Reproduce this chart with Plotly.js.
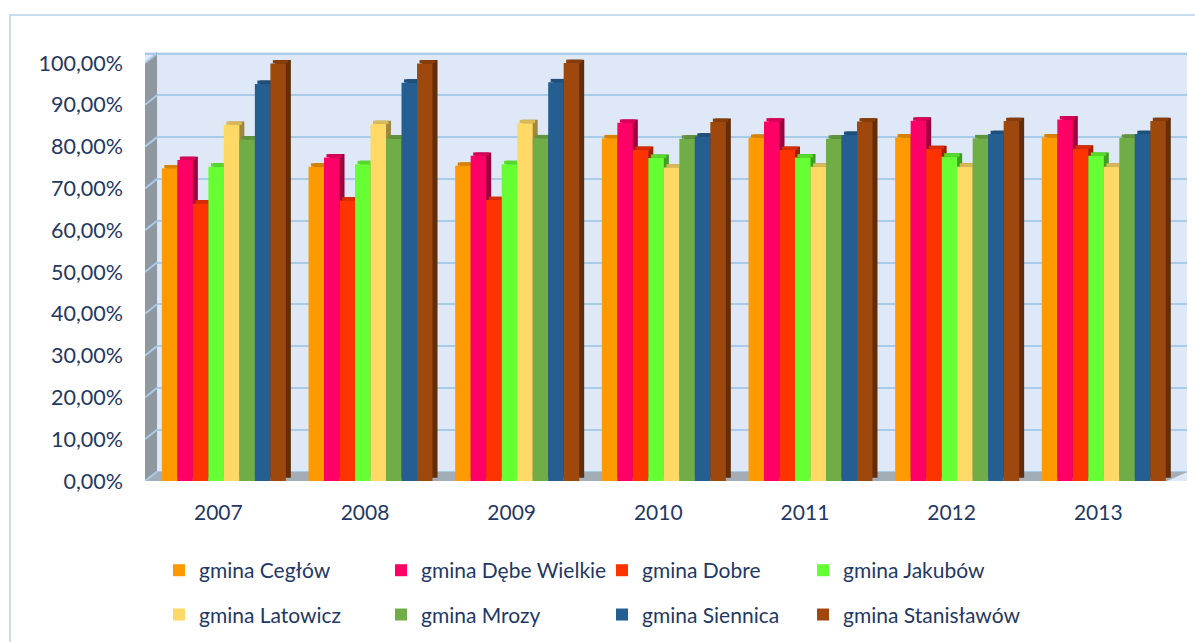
<!DOCTYPE html>
<html><head><meta charset="utf-8">
<script src="https://cdn.plot.ly/plotly-3.0.1.min.js"></script>
<style>
html,body{margin:0;padding:0;overflow:hidden;background:#fff;width:1195px;height:642px;}
#frame{position:absolute;left:9px;top:14px;width:1400px;height:900px;border-left:2px solid #C9DDF1;border-top:2px solid #C9DDF1;}
#chart{position:absolute;left:0;top:0;width:1195px;height:642px;}
</style></head><body>
<div id="frame"></div>
<div id="chart"></div>
<script>
// ---- data ----
const years = ['2007','2008','2009','2010','2011','2012','2013'];
const seriesNames = ['gmina Cegłów','gmina Dębe Wielkie','gmina Dobre','gmina Jakubów','gmina Latowicz','gmina Mrozy','gmina Siennica','gmina Stanisławów'];
const ceglow      = [74.8, 75.2, 75.4, 82.0, 82.1, 82.2, 82.2];
const debeWielkie = [76.8, 77.4, 77.8, 85.7, 86.0, 86.2, 86.5];
const dobre       = [66.4, 67.1, 67.2, 79.2, 79.2, 79.4, 79.5];
const jakubow     = [75.2, 75.8, 75.8, 77.3, 77.4, 77.6, 77.8];
const latowicz    = [85.2, 85.4, 85.6, 75.0, 75.2, 75.2, 75.2];
const mrozy       = [81.7, 81.9, 82.0, 81.9, 81.9, 82.0, 82.1];
const siennica    = [95.0, 95.3, 95.4, 82.4, 82.8, 83.0, 83.0];
const stanislawow = [99.9, 99.9, 100.0, 85.9, 86.0, 86.1, 86.1];
const yTicks = [0,10,20,30,40,50,60,70,80,90,100];
const yTickText = yTicks.map(t => t.toFixed(2).replace('.', ',') + '%');

// ---- style ----
const seriesValues = [ceglow, debeWielkie, dobre, jakubow, latowicz, mrozy, siennica, stanislawow];
const colors = ['#FF9900','#FF0066','#FF3300','#66FF33','#FFD966','#70AD47','#255E91','#9E480E'];
const legendIds = ['legend','legend2','legend3','legend4','legend','legend2','legend3','legend4'];
const textColor = '#1F3864';
const fontFam = 'Lato, "Open Sans", sans-serif';

function shade(hex, f){
  const n = parseInt(hex.slice(1),16);
  const r = Math.round(((n>>16)&255)*f), g = Math.round(((n>>8)&255)*f), b = Math.round((n&255)*f);
  return 'rgb('+r+','+g+','+b+')';
}

const W = 0.1057;      // bar width (category units)
const START = -0.385;  // offset of first bar
const DX = 0.034;      // depth shift in x (category units)
const DY = 0.8;        // depth shift in y (value units)
const WALL = 0.082;    // left wall depth (category units)
const YSHIFT = 2.27;   // back-wall shift in value units

const sides = [], tops = [], fronts = [];
seriesValues.forEach((vals, i) => {
  const off = START + i*W;
  sides.push({type:'bar', x:years, y:vals, base:DY, offset:off+DX, width:W,
    marker:{color:shade(colors[i],0.62), line:{width:0}}, showlegend:false, hoverinfo:'skip', cliponaxis:false});
  tops.push({type:'bar', x:years, y:vals.map(()=>DY), base:vals, offset:off+DX/2, width:W,
    marker:{color:shade(colors[i],0.85), line:{width:0}}, showlegend:false, hoverinfo:'skip', cliponaxis:false});
  fronts.push({type:'bar', x:years, y:vals, offset:off, width:W, name:seriesNames[i],
    legend:legendIds[i], legendgroup:seriesNames[i],
    marker:{color:colors[i], line:{width:0}}, cliponaxis:false,
    hovertemplate:'%{x}: %{y:.2f}%<extra>'+seriesNames[i]+'</extra>'});
});
const gridTrace = {type:'scatter', x:[], y:[], yaxis:'y2', showlegend:false, hoverinfo:'skip'};
const data = [gridTrace].concat(sides, tops, fronts);

const shapes = [
  {type:'path', xref:'x', yref:'y', layer:'between',
   path:'M -0.5,0 L '+(-0.5+WALL)+','+YSHIFT*0.95+' L '+(-0.5+WALL)+',102.63 L -0.5,100 Z',
   fillcolor:'#8F979F', line:{width:0}},
  {type:'path', xref:'x', yref:'y', layer:'between',
   path:'M -0.5,0 L '+(-0.5+WALL)+','+YSHIFT*0.95+' L 6.605,'+YSHIFT*0.95+' L 6.47,0 Z',
   fillcolor:'#A3ADB7', line:{width:0}}
];
yTicks.forEach(t => {
  shapes.push({type:'line', xref:'x', yref:'y', layer:'between',
    x0:-0.5, y0:t, x1:-0.5+WALL, y1:t+YSHIFT, line:{color:'#A9CBEA', width:2}});
});

const legendBase = {yanchor:'top', xanchor:'left', orientation:'v', bgcolor:'rgba(0,0,0,0)',
  font:{family:fontFam, size:21, color:textColor}, tracegroupgap:14, traceorder:'grouped', itemclick:false, itemdoubleclick:false};
const LY = -0.161;

const layout = {
  width:1195, height:642,
  margin:{l:145, r:8, t:52, b:161, pad:0, autoexpand:false},
  paper_bgcolor:'rgba(0,0,0,0)', plot_bgcolor:'#DEE8F6',
  barmode:'overlay',
  showlegend:true,
  xaxis:{type:'category', range:[-0.5, 6.605], showgrid:false, zeroline:false, showline:false, ticks:'',
    tickfont:{family:fontFam, size:21, color:textColor}, ticklabelstandoff:17, fixedrange:true},
  yaxis:{range:[0, 102.63], tickvals:yTicks, ticktext:yTickText, showgrid:false, zeroline:false,
    showline:false, ticks:'', tickfont:{family:fontFam, size:21.5, color:textColor}, ticklabelstandoff:21, fixedrange:true},
  yaxis2:{overlaying:'y', side:'left', range:[-YSHIFT, 102.63-YSHIFT], tickvals:yTicks, showgrid:true,
    gridcolor:'#A9CBEA', gridwidth:2, showticklabels:false, zeroline:false, showline:false, ticks:'', fixedrange:true},
  legend:  Object.assign({}, legendBase, {x:0.0134, y:LY}),
  legend2: Object.assign({}, legendBase, {x:0.2265, y:LY}),
  legend3: Object.assign({}, legendBase, {x:0.4386, y:LY}),
  legend4: Object.assign({}, legendBase, {x:0.6315, y:LY}),
  shapes:shapes
};
Plotly.newPlot('chart', data, layout, {displayModeBar:false, responsive:false});
</script>
</body></html>
